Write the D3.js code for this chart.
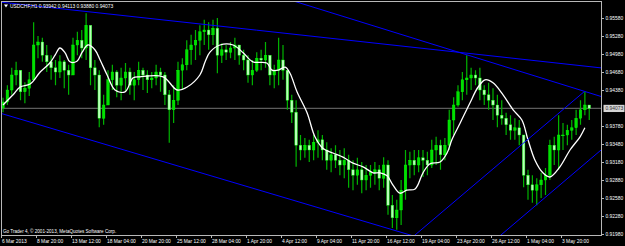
<!DOCTYPE html>
<html>
<head>
<meta charset="utf-8">
<script src="https://cdn.jsdelivr.net/npm/d3@7"></script>
<style>
body { margin: 0; background: #000; overflow: hidden; }
text { font-family: "Liberation Sans", Arial, sans-serif; fill: #fff; }
</style>
</head>
<body>
<div id="svg_container"></div>
<script>
/* -----------------------
data
------------------------- */

var title = 'USDCHF,H1 0.93942 0.94113 0.93880 0.94073';
var copyright = 'Go Trader 4, \u00a9 2001-2013, MetaQuotes Software Corp.';

// 8 hour bars, 6 Mar 2013 -> 3 May 2013
var first_open = 0.9408;
var highs = [0.9425,0.9446,0.9475,0.9485,0.9455,0.9451,0.9468,0.9551,0.9528,0.9525,
	0.9513,0.9496,0.9488,0.9496,0.9488,0.9480,0.9525,0.9535,0.9538,0.9566,
	0.9521,0.9488,0.9471,0.9430,0.9471,0.9480,0.9471,0.9475,0.9483,0.9475,
	0.9468,0.9485,0.9475,0.9471,0.9468,0.9480,0.9475,0.9468,0.9438,0.9446,
	0.9485,0.9491,0.9521,0.9530,0.9538,0.9546,0.9555,0.9551,0.9555,0.9558,
	0.9516,0.9513,0.9518,0.9525,0.9508,0.9505,0.9496,0.9488,0.9501,0.9505,
	0.9518,0.9485,0.9480,0.9525,0.9513,0.9471,0.9430,0.9421,0.9363,0.9358,
	0.9355,0.9363,0.9371,0.9363,0.9351,0.9341,0.9346,0.9338,0.9341,0.9330,
	0.9321,0.9325,0.9318,0.9313,0.9313,0.9318,0.9313,0.9326,0.9321,0.9263,
	0.9255,0.9288,0.9338,0.9335,0.9338,0.9338,0.9338,0.9335,0.9355,0.9360,
	0.9355,0.9358,0.9405,0.9426,0.9446,0.9468,0.9496,0.9475,0.9471,0.9475,
	0.9446,0.9450,0.9441,0.9430,0.9421,0.9400,0.9396,0.9391,0.9388,0.9360,
	0.9305,0.9296,0.9291,0.9300,0.9308,0.9355,0.9360,0.9396,0.9383,0.9380,
	0.9388,0.9405,0.9421,0.9435,0.9411];
var lows = [0.9401,0.9413,0.9430,0.9446,0.9421,0.9416,0.9428,0.9455,0.9491,0.9485,
	0.9468,0.9455,0.9446,0.9458,0.9441,0.9430,0.9468,0.9496,0.9491,0.9488,
	0.9446,0.9438,0.9376,0.9380,0.9413,0.9438,0.9426,0.9421,0.9435,0.9430,
	0.9421,0.9446,0.9438,0.9433,0.9441,0.9446,0.9435,0.9413,0.9350,0.9383,
	0.9413,0.9438,0.9471,0.9480,0.9488,0.9496,0.9513,0.9505,0.9513,0.9466,
	0.9483,0.9488,0.9491,0.9488,0.9480,0.9471,0.9450,0.9446,0.9468,0.9471,
	0.9475,0.9446,0.9441,0.9446,0.9455,0.9405,0.9383,0.9310,0.9321,0.9325,
	0.9318,0.9321,0.9325,0.9321,0.9305,0.9301,0.9308,0.9296,0.9291,0.9275,
	0.9271,0.9280,0.9266,0.9271,0.9275,0.9280,0.9271,0.9275,0.9230,0.9208,
	0.9205,0.9213,0.9255,0.9291,0.9296,0.9301,0.9293,0.9296,0.9308,0.9313,
	0.9305,0.9321,0.9338,0.9363,0.9410,0.9421,0.9430,0.9438,0.9446,0.9421,
	0.9413,0.9405,0.9388,0.9376,0.9380,0.9363,0.9355,0.9355,0.9346,0.9276,
	0.9255,0.9250,0.9246,0.9258,0.9263,0.9288,0.9313,0.9305,0.9338,0.9346,
	0.9355,0.9363,0.9380,0.9396,0.9388];
var closes = [0.9418,0.9438,0.9463,0.9471,0.9435,0.9441,0.9455,0.9513,0.9518,0.9496,
	0.9485,0.9475,0.9468,0.9485,0.9471,0.9463,0.9513,0.9521,0.9508,0.9546,
	0.9475,0.9463,0.9391,0.9413,0.9455,0.9468,0.9446,0.9458,0.9468,0.9446,
	0.9455,0.9471,0.9463,0.9455,0.9458,0.9468,0.9463,0.9430,0.9405,0.9421,
	0.9471,0.9480,0.9505,0.9513,0.9521,0.9535,0.9538,0.9530,0.9541,0.9496,
	0.9505,0.9501,0.9508,0.9513,0.9496,0.9488,0.9463,0.9471,0.9491,0.9488,
	0.9496,0.9463,0.9471,0.9488,0.9471,0.9421,0.9401,0.9346,0.9338,0.9346,
	0.9338,0.9351,0.9355,0.9338,0.9321,0.9330,0.9321,0.9313,0.9321,0.9305,
	0.9296,0.9305,0.9288,0.9296,0.9301,0.9305,0.9291,0.9313,0.9246,0.9225,
	0.9238,0.9271,0.9313,0.9321,0.9313,0.9325,0.9321,0.9313,0.9338,0.9346,
	0.9330,0.9346,0.9388,0.9413,0.9435,0.9455,0.9458,0.9463,0.9458,0.9438,
	0.9430,0.9421,0.9413,0.9396,0.9391,0.9380,0.9371,0.9375,0.9363,0.9296,
	0.9280,0.9271,0.9280,0.9288,0.9296,0.9346,0.9338,0.9363,0.9363,0.9371,
	0.9375,0.9391,0.9405,0.9413,0.94073];

// moving average (bar position, price)
var ma_idx = [0,2.3,3.9,6.2,8.5,10.7,11.9,13,14.2,15.3,16.9,18.1,19.4,21,22.2,23.8,25.6,27.9,29.7,31.3,
	36.6,39.8,42.1,45,46.2,47.3,49.6,52.6,54.9,57.1,60.3,61.5,62.9,64.5,65.6,67.2,69.5,71.3,73.1,75.4,
	77.7,80,82.3,84.6,86.2,87.8,89.1,90.7,92.3,94.2,96,97.6,99.9,101.5,102.6,104.5,106.7,108.6,110.2,112,
	114.3,116.6,118.6,120,121.6,123.4,125,127.3,129.6,131.9,133];
var ma_val = [0.9413,0.9430,0.9443,0.9448,0.9468,0.9483,0.9496,0.9508,0.9500,0.9485,0.9486,0.9501,0.9513,0.9505,0.9488,0.9463,0.9438,0.9435,0.9458,0.9460,
	0.9460,0.9438,0.9443,0.9463,0.9485,0.9501,0.9513,0.9513,0.9500,0.9485,0.9483,0.9471,0.9471,0.9476,0.9466,0.9435,0.9400,0.9360,0.9341,0.9333,
	0.9326,0.9316,0.9310,0.9300,0.9300,0.9295,0.9280,0.9266,0.9271,0.9273,0.9300,0.9315,0.9318,0.9333,0.9355,0.9383,0.9416,0.9443,0.9455,0.9450,
	0.9430,0.9405,0.9388,0.9355,0.9321,0.9300,0.9293,0.9310,0.9338,0.9360,0.9375];

// trend lines, two anchors each (bar position, price)
var line_a = [[0, 0.9584], [134, 0.9477]];
var line_b = [[106.3, 0.9496], [132.8, 0.9436]];
var line_c = [[0, 0.9398], [90, 0.9203]];
var line_d = [[92.5, 0.9186], [132.8, 0.9435]];
var line_e = [[113.6, 0.9195], [136.7, 0.9338]];

var date_labels = ['6 Mar 2013','8 Mar 20:00','13 Mar 12:00','18 Mar 04:00','20 Mar 20:00','25 Mar 12:00',
	'28 Mar 04:00','1 Apr 20:00','4 Apr 12:00','9 Apr 04:00','11 Apr 20:00','16 Apr 12:00','19 Apr 04:00',
	'23 Apr 20:00','26 Apr 12:00','1 May 04:00','3 May 20:00'];
var label_step = 8;

var price_ticks = [0.95580,0.95280,0.94980,0.94680,0.94380,0.93780,0.93480,0.93180,0.92880,0.92580,0.92280,0.91980];
var bid = 0.94073;

/* -----------------------
main variables
------------------------- */

var width = 625,
height = 246;

var plot_l = 1.5, plot_t = 1.5, plot_r = 601.5, plot_b = 235.5;

var font_size = '4.9px';

var c_wick = '#00b400',
c_bull = '#00e000',
c_bear = '#b8ffb8',
c_ma = '#ffffff',
c_trend = '#0000ff',
c_bid = '#5c5c5c',
c_frame = '#b8b8b8';

var x = d3.scaleLinear().domain([0, 134]).range([3, 589.25]);
var y = d3.scaleLinear().domain([0.91980, 0.95580]).range([234, 18]);

/* -----------------------
set plot
------------------------- */

var svg = d3.select('#svg_container')
	.append('svg')
	.attr('width', width)
	.attr('height', height)
	.style('display', 'block')
	.style('background', '#000');

svg.append('clipPath')
	.attr('id', 'clip')
	.append('rect')
	.attr('x', plot_l)
	.attr('y', plot_t)
	.attr('width', plot_r - plot_l)
	.attr('height', plot_b - plot_t);

var plot = svg.append('g').attr('clip-path', 'url(#clip)');

// bid line
plot.append('line')
	.attr('x1', plot_l).attr('x2', plot_r)
	.attr('y1', y(bid)).attr('y2', y(bid))
	.attr('stroke', c_bid)
	.attr('stroke-width', 1.2);

/* -----------------------
bars
------------------------- */

var bars = highs.map(function (h, i) {
	return { i: i, h: h, l: lows[i], c: closes[i], o: i == 0 ? first_open : closes[i - 1] };
});

var bar = plot.selectAll('.bar')
	.data(bars)
	.enter()
	.append('g')
	.attr('class', 'bar');

bar.append('line')
	.attr('x1', function (d) { return x(d.i); })
	.attr('x2', function (d) { return x(d.i); })
	.attr('y1', function (d) { return y(d.h); })
	.attr('y2', function (d) { return y(d.l); })
	.attr('stroke', c_wick)
	.attr('stroke-width', 1.2);

bar.append('rect')
	.attr('x', function (d) { return x(d.i) - 1.3; })
	.attr('width', 2.6)
	.attr('y', function (d) { return y(Math.max(d.o, d.c)); })
	.attr('height', function (d) { return Math.max(0.8, Math.abs(y(d.o) - y(d.c))); })
	.attr('fill', function (d) { return d.c >= d.o ? c_bull : c_bear; })
	.attr('stroke', '#00ff00')
	.attr('stroke-width', 0.4);

/* -----------------------
moving average + trend lines
------------------------- */

var ma_line = d3.line()
	.x(function (d) { return x(d[0]); })
	.y(function (d) { return y(d[1]); })
	.curve(d3.curveCatmullRom.alpha(0.5));

plot.append('path')
	.datum(ma_idx.map(function (v, i) { return [v, ma_val[i]]; }))
	.attr('d', ma_line)
	.attr('fill', 'none')
	.attr('stroke', c_ma)
	.attr('stroke-width', 1.3);

function trend(pts, ray) {
	var p0 = pts[0], p1 = pts[1];
	var k = (p1[1] - p0[1]) / (p1[0] - p0[0]);
	var a = ray ? -20 : p0[0], b = ray ? 150 : p1[0];
	plot.append('line')
		.attr('x1', x(a)).attr('y1', y(p0[1] + k * (a - p0[0])))
		.attr('x2', x(b)).attr('y2', y(p0[1] + k * (b - p0[0])))
		.attr('stroke', c_trend)
		.attr('stroke-width', 1);
}
trend(line_a, true);
trend(line_b, true);
trend(line_c, true);
trend(line_d, false);
trend(line_e, true);

/* -----------------------
frame + axes
------------------------- */

svg.append('rect')
	.attr('x', plot_l).attr('y', plot_t)
	.attr('width', plot_r - plot_l).attr('height', plot_b - plot_t)
	.attr('fill', 'none')
	.attr('stroke', c_frame);

var y_axis = svg.append('g').attr('class', 'y_axis');
price_ticks.forEach(function (p) {
	y_axis.append('line')
		.attr('x1', plot_r).attr('x2', plot_r + 2.5)
		.attr('y1', Math.round(y(p)) + 0.5).attr('y2', Math.round(y(p)) + 0.5)
		.attr('stroke', c_frame);
	y_axis.append('text')
		.attr('x', 605.5)
		.attr('y', y(p) + 1.8)
		.attr('font-size', font_size)
		.text(p.toFixed(5));
});

// bid label
y_axis.append('rect')
	.attr('x', 603.5).attr('y', y(bid) - 3.6)
	.attr('width', 21).attr('height', 7.2)
	.attr('fill', '#d4d4d4');
y_axis.append('text')
	.attr('x', 605.5)
	.attr('y', y(bid) + 1.8)
	.attr('font-size', font_size)
	.style('fill', '#303030')
	.text(bid.toFixed(5));

var x_axis = svg.append('g').attr('class', 'x_axis');
date_labels.forEach(function (t, k) {
	var px = Math.round(x(k * label_step)) - 1.5;
	x_axis.append('line')
		.attr('x1', px).attr('x2', px)
		.attr('y1', plot_b).attr('y2', plot_b + 2.5)
		.attr('stroke', c_frame);
	x_axis.append('text')
		.attr('x', px + 0.5)
		.attr('y', 242.5)
		.attr('font-size', font_size)
		.text(t);
});

/* -----------------------
texts
------------------------- */

svg.append('path')
	.attr('d', 'M4,4.5 L8,4.5 L6,7.5 Z')
	.attr('fill', '#fff');

svg.append('text')
	.attr('x', 10)
	.attr('y', 7.8)
	.attr('font-size', font_size)
	.text(title);

svg.append('text')
	.attr('x', 3)
	.attr('y', 232.5)
	.attr('font-size', '4.6px')
	.text(copyright);
</script>
</body>
</html>
